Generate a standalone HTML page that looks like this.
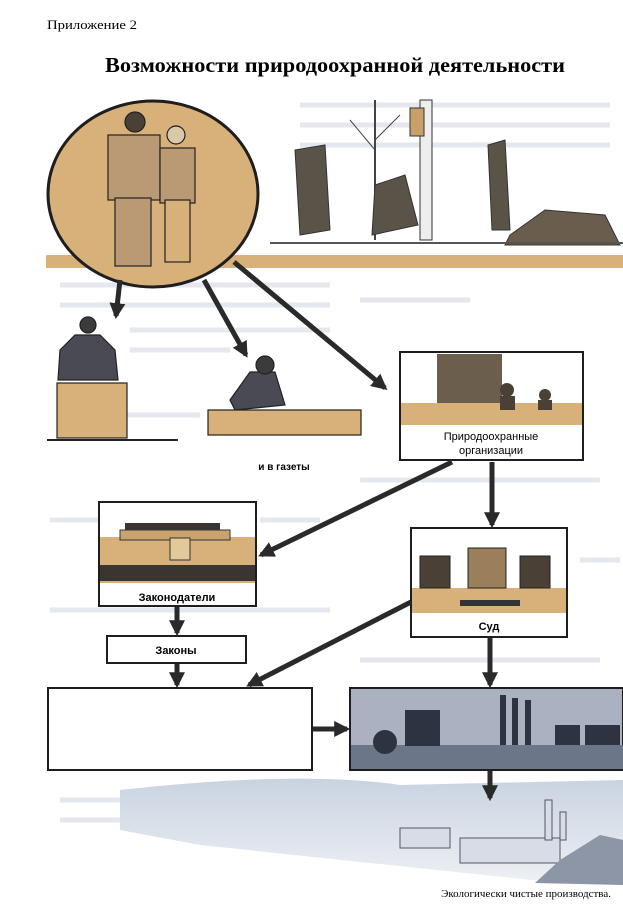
<!DOCTYPE html>
<html><head><meta charset="utf-8"><style>
html,body{margin:0;padding:0;background:#fff;}
svg{display:block;}
</style></head><body>
<svg width="623" height="922" viewBox="0 0 623 922" xmlns="http://www.w3.org/2000/svg">
<defs>
<marker id="ah" viewBox="0 0 10 10" refX="8" refY="5" markerWidth="3.2" markerHeight="3.2" orient="auto" markerUnits="strokeWidth">
<path d="M0,0 L10,5 L0,10 z" fill="#2a2a2a"/></marker>
<linearGradient id="sky" x1="0" y1="0" x2="0" y2="1"><stop offset="0" stop-color="#c9d3e0"/><stop offset="1" stop-color="#eef1f5"/></linearGradient>
</defs>
<g stroke="#e4e7ee" stroke-width="5">
<line x1="300" y1="105" x2="610" y2="105"/><line x1="300" y1="125" x2="610" y2="125"/><line x1="300" y1="145" x2="610" y2="145"/>
<line x1="60" y1="285" x2="330" y2="285"/><line x1="60" y1="305" x2="330" y2="305"/><line x1="360" y1="300" x2="470" y2="300"/>
<line x1="130" y1="330" x2="330" y2="330"/><line x1="130" y1="350" x2="230" y2="350"/><line x1="60" y1="415" x2="200" y2="415"/>
<line x1="50" y1="520" x2="100" y2="520"/><line x1="260" y1="520" x2="320" y2="520"/><line x1="50" y1="610" x2="330" y2="610"/>
<line x1="60" y1="800" x2="330" y2="800"/><line x1="60" y1="820" x2="230" y2="820"/><line x1="360" y1="480" x2="600" y2="480"/>
<line x1="360" y1="660" x2="600" y2="660"/><line x1="580" y1="560" x2="620" y2="560"/>
</g>
<text x="47" y="29" font-family="Liberation Serif, serif" font-size="12.5" textLength="90" lengthAdjust="spacingAndGlyphs">Приложение 2</text>
<text x="105" y="72" font-family="Liberation Serif, serif" font-size="21" font-weight="bold" textLength="460" lengthAdjust="spacingAndGlyphs">Возможности природоохранной деятельности</text>

<rect x="46" y="255" width="577" height="13" fill="#d8b07a"/>
<g fill="#5a5348" stroke="#333" stroke-width="1">
<line x1="375" y1="100" x2="375" y2="240" stroke="#444" stroke-width="2"/>
<line x1="375" y1="150" x2="350" y2="120" stroke="#444"/><line x1="375" y1="140" x2="400" y2="115" stroke="#444"/>
<rect x="420" y="100" width="12" height="140" fill="#eee"/>
<rect x="410" y="108" width="14" height="28" fill="#c9a06a"/>
<path d="M295 150 L325 145 L330 230 L300 235 Z"/>
<path d="M375 185 L405 175 L418 225 L372 235 Z"/>
<path d="M488 145 L505 140 L510 230 L492 230 Z"/>
<path d="M510 235 L545 210 L605 215 L620 245 L505 245 Z" fill="#6a5d4e"/>
<line x1="270" y1="243" x2="623" y2="243" stroke="#555" stroke-width="2"/>
</g>
<ellipse cx="153" cy="194" rx="105" ry="93" fill="#d8b07a" stroke="#1e1e1e" stroke-width="3"/>
<g fill="#b99a74" stroke="#222" stroke-width="1.2">
<rect x="108" y="135" width="52" height="65"/>
<rect x="115" y="198" width="36" height="68"/>
<circle cx="135" cy="122" r="10" fill="#4a4036"/>
<rect x="160" y="148" width="35" height="55"/>
<rect x="165" y="200" width="25" height="62" fill="#d8b07a"/>
<circle cx="176" cy="135" r="9" fill="#d9c9a9"/>
</g>
<g stroke="#222" stroke-width="1.2">
<path d="M60 350 L75 335 L100 335 L115 350 L118 380 L58 380 Z" fill="#4a4a55"/>
<circle cx="88" cy="325" r="8" fill="#3b3b3b"/>
<rect x="57" y="383" width="70" height="55" fill="#d8b07a"/>
</g>
<line x1="47" y1="440" x2="178" y2="440" stroke="#222" stroke-width="2"/>
<g stroke="#222" stroke-width="1.2">
<path d="M230 400 L250 372 L275 372 L285 405 L235 410 Z" fill="#4a4a55"/>
<circle cx="265" cy="365" r="9" fill="#3b3b3b"/>
<rect x="208" y="410" width="153" height="25" fill="#d8b07a"/>
</g>
<rect x="400" y="352" width="183" height="108" fill="#fff" stroke="#1e1e1e" stroke-width="2"/>
<rect x="437" y="354" width="65" height="60" fill="#6b5e4c"/>
<rect x="401" y="403" width="181" height="22" fill="#d8b07a"/>
<g fill="#4a4036"><circle cx="507" cy="390" r="7"/><circle cx="545" cy="395" r="6"/><rect x="500" y="396" width="15" height="14"/><rect x="538" y="400" width="14" height="10"/></g>
<text x="491" y="440" text-anchor="middle" font-family="Liberation Sans, sans-serif" font-size="11">Природоохранные</text>
<text x="491" y="454" text-anchor="middle" font-family="Liberation Sans, sans-serif" font-size="11">организации</text>
<text x="284" y="470" text-anchor="middle" font-family="Liberation Sans, sans-serif" font-size="10" font-weight="bold">и в газеты</text>

<rect x="99" y="502" width="157" height="104" fill="#fff" stroke="#1e1e1e" stroke-width="2"/>
<rect x="100" y="537" width="155" height="46" fill="#d8b07a"/>
<rect x="120" y="530" width="110" height="10" fill="#c9a36e" stroke="#333"/>
<rect x="170" y="538" width="20" height="22" fill="#e2c99a" stroke="#333"/>
<g fill="#3a3530"><rect x="100" y="565" width="155" height="16"/><rect x="125" y="523" width="95" height="7"/></g>
<text x="177" y="601" text-anchor="middle" font-family="Liberation Sans, sans-serif" font-size="11" font-weight="bold">Законодатели</text>
<rect x="107" y="636" width="139" height="27" fill="#fff" stroke="#1e1e1e" stroke-width="2"/>
<text x="176" y="654" text-anchor="middle" font-family="Liberation Sans, sans-serif" font-size="11" font-weight="bold">Законы</text>
<rect x="411" y="528" width="156" height="109" fill="#fff" stroke="#1e1e1e" stroke-width="2"/>
<rect x="412" y="588" width="154" height="25" fill="#d8b07a"/>
<g fill="#4a4036" stroke="#222"><rect x="420" y="556" width="30" height="32"/><rect x="468" y="548" width="38" height="40" fill="#9b7e5a"/><rect x="520" y="556" width="30" height="32"/></g>
<rect x="460" y="600" width="60" height="6" fill="#333"/>
<text x="489" y="630" text-anchor="middle" font-family="Liberation Sans, sans-serif" font-size="11" font-weight="bold">Суд</text>
<rect x="48" y="688" width="264" height="82" fill="#fff" stroke="#1e1e1e" stroke-width="2"/>
<rect x="350" y="688" width="273" height="82" fill="#aab2c2" stroke="#1e1e1e" stroke-width="2"/>
<rect x="351" y="745" width="272" height="24" fill="#6c7689"/>
<g fill="#2d3340"><rect x="405" y="710" width="35" height="36"/><circle cx="385" cy="742" r="12"/><rect x="500" y="695" width="6" height="50"/><rect x="512" y="698" width="6" height="47"/><rect x="525" y="700" width="6" height="45"/><rect x="555" y="725" width="25" height="20"/><rect x="585" y="725" width="35" height="20"/></g>
<path d="M120 790 Q300 770 400 785 L623 780 L623 885 L560 883 L200 845 L120 830 Z" fill="url(#sky)"/>
<g fill="#d7dde7" stroke="#556" stroke-width="1"><rect x="460" y="838" width="100" height="25"/><rect x="545" y="800" width="7" height="40"/><rect x="560" y="812" width="6" height="28"/><rect x="400" y="828" width="50" height="20"/></g>
<path d="M535 883 L560 860 L600 835 L623 840 L623 885 Z" fill="#8d96a6"/>
<text x="611" y="897" text-anchor="end" font-family="Liberation Serif, serif" font-size="11">Экологически чистые производства.</text>

<g stroke="#2a2a2a" stroke-width="5" fill="none" marker-end="url(#ah)">
<line x1="120" y1="280" x2="116" y2="316"/>
<line x1="204" y1="280" x2="246" y2="355"/>
<line x1="234" y1="262" x2="385" y2="388"/>
<line x1="452" y1="462" x2="261" y2="555"/>
<line x1="492" y1="462" x2="492" y2="525"/>
<line x1="177" y1="607" x2="177" y2="633"/>
<line x1="177" y1="664" x2="177" y2="685"/>
<line x1="411" y1="602" x2="249" y2="685"/>
<line x1="490" y1="638" x2="490" y2="685"/>
<line x1="313" y1="729" x2="347" y2="729"/>
<line x1="490" y1="771" x2="490" y2="798"/>
</g>
</svg>
</body></html>
